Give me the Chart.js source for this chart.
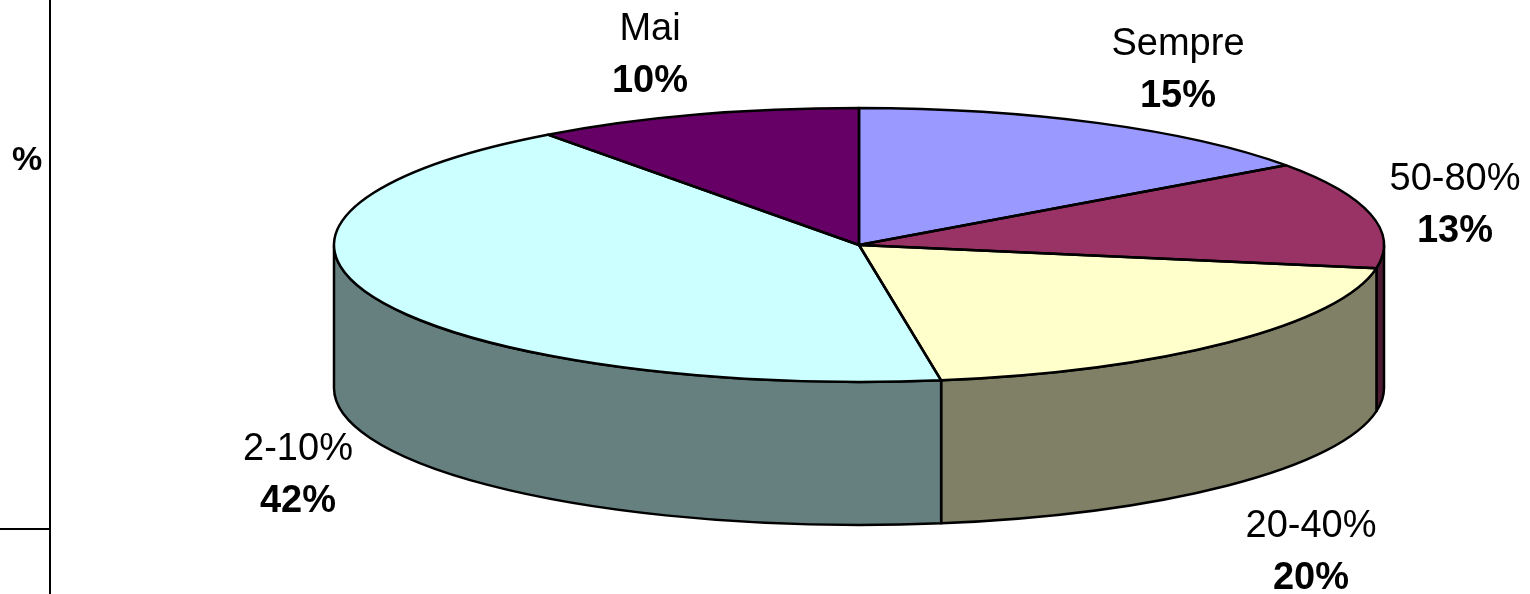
<!DOCTYPE html>
<html>
<head>
<meta charset="utf-8">
<script src="https://cdn.jsdelivr.net/npm/chart.js@4"></script>
<style>
  body { margin: 0; background: #fff; }
  #wrap { width: 1530px; height: 594px; }
</style>
</head>
<body>
<div id="wrap"><canvas id="pieChart"></canvas></div>
<script>
// data
const categories = ["Sempre", "50-80%", "20-40%", "2-10%", "Mai"];
const shares = [15.1, 12.6, 19.8, 42.4, 10.1];

// styles
const topColors = ["#9999FF", "#993366", "#FFFFCC", "#CCFFFF", "#660066"];
const sideColors = ["#4D4D80", "#4D1A33", "#808066", "#668080", "#330033"];

// 3d layout of the pie
const CX = 859, CY = 245, RX = 525, RY = 137, DEPTH = 143;
// label anchor (centre x, baseline of first line)
const labelPos = [[1178, 55], [1455, 190], [1311, 537], [298, 460], [650, 40]];

const pie3d = {
  id: "pie3d",
  beforeDatasetsDraw(chart) {
    const ctx = chart.ctx;
    const arcs = chart.getDatasetMeta(0).data;
    ctx.save();
    ctx.lineWidth = 2.5;
    ctx.lineJoin = "round";
    ctx.strokeStyle = "#000";
    // side walls, only the front half is visible
    arcs.forEach((arc, i) => {
      const a = Math.max(arc.startAngle, 0);
      const b = Math.min(arc.endAngle, Math.PI);
      if (b <= a) return;
      ctx.beginPath();
      ctx.ellipse(CX, CY, RX, RY, 0, a, b);
      ctx.ellipse(CX, CY + DEPTH, RX, RY, 0, b, a, true);
      ctx.closePath();
      ctx.fillStyle = sideColors[i];
      ctx.fill();
      ctx.stroke();
    });
    ctx.restore();
    // squash the library's round pie into the top ellipse
    const el = arcs[0];
    ctx.save();
    ctx.translate(CX, CY);
    ctx.scale(RX / el.outerRadius, RY / el.outerRadius);
    ctx.translate(-el.x, -el.y);
  },
  afterDatasetsDraw(chart) {
    const ctx = chart.ctx;
    ctx.restore();
    const arcs = chart.getDatasetMeta(0).data;
    ctx.save();
    ctx.lineWidth = 2.5;
    ctx.lineJoin = "round";
    ctx.strokeStyle = "#000";
    arcs.forEach((arc) => {
      ctx.beginPath();
      ctx.moveTo(CX, CY);
      ctx.ellipse(CX, CY, RX, RY, 0, arc.startAngle, arc.endAngle);
      ctx.closePath();
      ctx.stroke();
    });

    // labels
    const total = shares.reduce((s, v) => s + v, 0);
    ctx.fillStyle = "#000";
    ctx.textAlign = "center";
    ctx.textBaseline = "alphabetic";
    categories.forEach((c, i) => {
      const [x, y] = labelPos[i];
      ctx.font = "38px 'Liberation Sans', Arial, sans-serif";
      ctx.fillText(c, x, y);
      ctx.font = "bold 38px 'Liberation Sans', Arial, sans-serif";
      ctx.fillText(Math.round((shares[i] / total) * 100) + "%", x, y + 52);
    });

    // leftover axis at the left edge
    ctx.lineWidth = 2;
    ctx.beginPath();
    ctx.moveTo(50, 0);
    ctx.lineTo(50, 594);
    ctx.moveTo(0, 529);
    ctx.lineTo(50, 529);
    ctx.stroke();
    ctx.font = "bold 34px 'Liberation Sans', Arial, sans-serif";
    ctx.fillText("%", 27, 170);
    ctx.restore();
  },
};

const ctx = document.getElementById("pieChart").getContext("2d");
new Chart(ctx, {
  type: "pie",
  data: {
    labels: categories,
    datasets: [
      {
        data: shares,
        backgroundColor: topColors,
        borderWidth: 0,
      },
    ],
  },
  options: {
    responsive: true,
    maintainAspectRatio: false,
    animation: false,
    plugins: {
      legend: { display: false },
      tooltip: { enabled: false },
    },
  },
  plugins: [pie3d],
});
</script>
</body>
</html>
